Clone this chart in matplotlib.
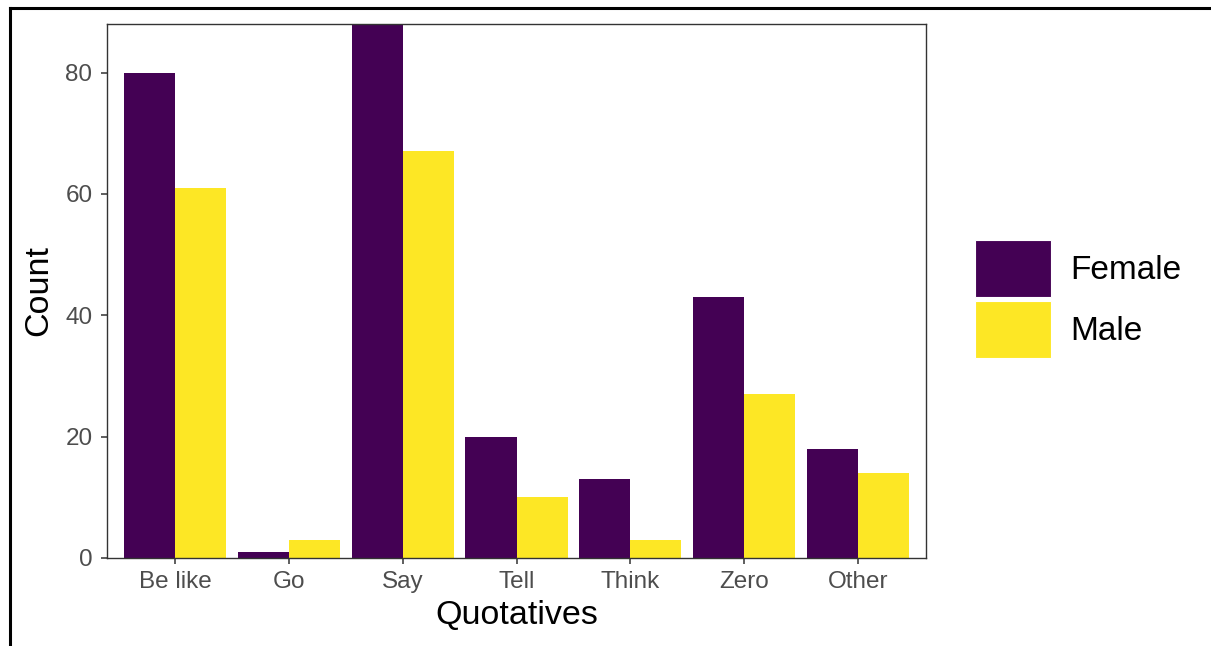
import matplotlib
matplotlib.use("Agg")
import matplotlib.pyplot as plt
import numpy as np
from matplotlib.patches import Patch
from matplotlib.lines import Line2D

plt.rcParams['font.family'] = ['Liberation Sans', 'DejaVu Sans']

categories = ["Be like", "Go", "Say", "Tell", "Think", "Zero", "Other"]
female = [80, 1, 88, 20, 13, 43, 18]
male = [61, 3, 67, 10, 3, 27, 14]
groups = ["Female", "Male"]
colors = ["#440154", "#FDE725"]
yticks = [0, 20, 40, 60, 80]

W, H = 1211, 646
fig = plt.figure(figsize=(W / 100, H / 100), dpi=100)

ax_l, ax_r, ax_t, ax_b = 107, 926, 24, 558
ax = fig.add_axes([ax_l / W, (H - ax_b) / H, (ax_r - ax_l) / W, (ax_b - ax_t) / H])

x = np.arange(len(categories))
bw = 0.45
ax.bar(x - bw / 2, female, width=bw, color=colors[0], label=groups[0], linewidth=0)
ax.bar(x + bw / 2, male, width=bw, color=colors[1], label=groups[1], linewidth=0)

ax.set_xlim(-0.6, len(categories) - 1 + 0.6)
ax.set_ylim(0, max(max(female), max(male)))
ax.set_xticks(x)
ax.set_xticklabels(categories)
ax.set_yticks(yticks)

for s in ax.spines.values():
    s.set_color('#333333')
    s.set_linewidth(1.0)
ax.tick_params(axis='both', colors='#333333', length=4.5, width=1.1,
               labelsize=17.5, labelcolor='#4D4D4D', pad=6)
ax.tick_params(axis='x', pad=5)

ax.set_xlabel("Quotatives", fontsize=24.5, color='black', labelpad=5)
ax.set_ylabel("Count", fontsize=24.5, color='black', labelpad=8)

handles = [Patch(facecolor=colors[0], edgecolor='white', linewidth=0.8),
           Patch(facecolor=colors[1], edgecolor='white', linewidth=0.8)]
fs = 24
fs_px = fs * 100 / 72
hh = (57 / fs_px - 0.245) / 0.65
fig.legend(handles, groups, loc='upper left',
           bbox_to_anchor=(975 / W, 1 - 240 / H), frameon=False,
           fontsize=fs, handlelength=76 / fs_px, handleheight=hh,
           labelspacing=4 / fs_px, handletextpad=19 / fs_px,
           borderpad=0, borderaxespad=0)

# screenshot border (left and top)
fig.add_artist(Line2D([9.5 / W, 9.5 / W], [0, 1 - 7.5 / H], transform=fig.transFigure,
                      color='black', linewidth=2.2, solid_capstyle='projecting'))
fig.add_artist(Line2D([9.5 / W, 1], [1 - 7.5 / H, 1 - 7.5 / H], transform=fig.transFigure,
                      color='black', linewidth=2.2, solid_capstyle='projecting'))

fig.savefig("out.png", dpi=100, facecolor='white')
